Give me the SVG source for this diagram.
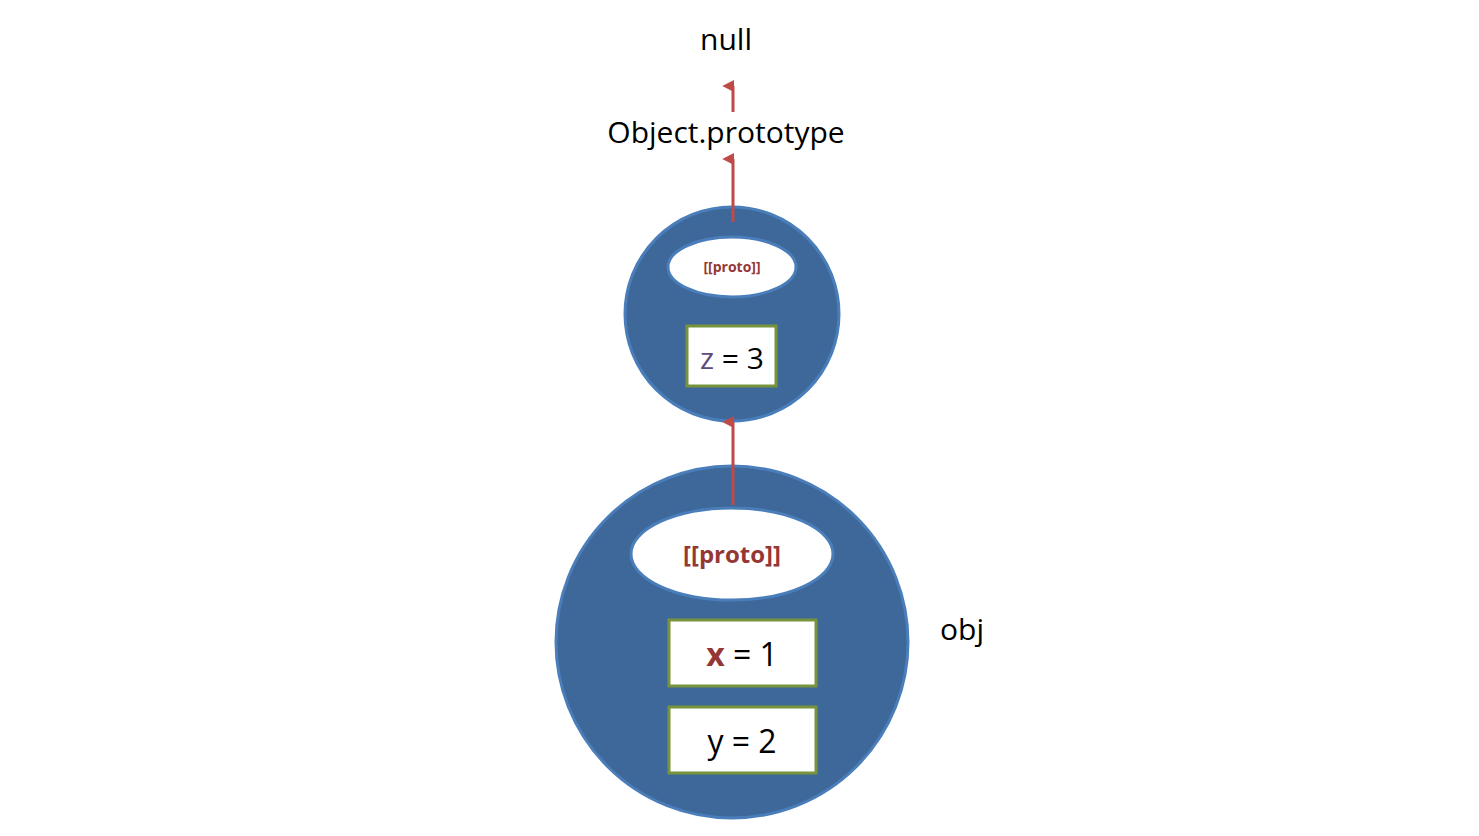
<svg xmlns="http://www.w3.org/2000/svg" width="1479" height="836" viewBox="0 0 1479 836">
<style>
.t{font-family:"Open Sans","Liberation Sans",sans-serif;fill:#000;text-anchor:middle}
.obj{fill:#3e6899;stroke:#4a7ebb;stroke-width:3}
.ell{fill:#fff;stroke:#4a7ebb;stroke-width:3}
.box{fill:#fff;stroke:#77933c;stroke-width:3}
.pr{font-family:"Open Sans","Liberation Sans",sans-serif;font-weight:bold;fill:#953735;text-anchor:middle}
.c{stroke:#be4b48;stroke-width:3;fill:none;marker-end:url(#a)}
</style>
<defs><marker id="a" viewBox="0 0 10 10" refX="5" refY="9" markerWidth="4" markerHeight="4" orient="auto-start-reverse"><path d="M0 10L5 0L10 10Z" fill="#be4b48" transform="rotate(0)"/></marker></defs>
<rect width="1479" height="836" fill="#fff"/>
<g id="null"><text class="t" x="726" y="50" font-size="30">null</text></g>
<g id="objproto"><text class="t" x="726" y="143" font-size="30">Object.prototype</text></g>
<g id="proto">
<circle class="obj" cx="732" cy="314" r="107"/>
<ellipse class="ell" cx="732" cy="267" rx="64" ry="30"/>
<text class="pr" x="732" y="272" font-size="14">[[proto]]</text>
<rect class="box" x="687" y="326" width="89" height="60"/>
<text class="t" x="732" y="369" font-size="30"><tspan fill="#604a7b">z</tspan> = 3</text>
</g>
<g id="obj">
<circle class="obj" cx="732" cy="642" r="176"/>
<ellipse class="ell" cx="732" cy="554" rx="101" ry="46"/>
<text class="pr" x="732" y="563" font-size="24">[[proto]]</text>
<rect class="box" x="669" y="620" width="147" height="66"/>
<text class="t" x="742" y="666" font-size="32"><tspan fill="#953735" font-weight="bold">x</tspan> = 1</text>
<rect class="box" x="669" y="707" width="147" height="66"/>
<text class="t" x="742" y="753" font-size="32">y = 2</text>
<text class="t" x="962" y="640" font-size="30">obj</text>
</g>
<g id="connectors">
<line class="c" x1="733" y1="505" x2="733" y2="422"/>
<line class="c" x1="733" y1="222" x2="733" y2="159"/>
<line class="c" x1="733" y1="112" x2="733" y2="86"/>
</g>
</svg>
